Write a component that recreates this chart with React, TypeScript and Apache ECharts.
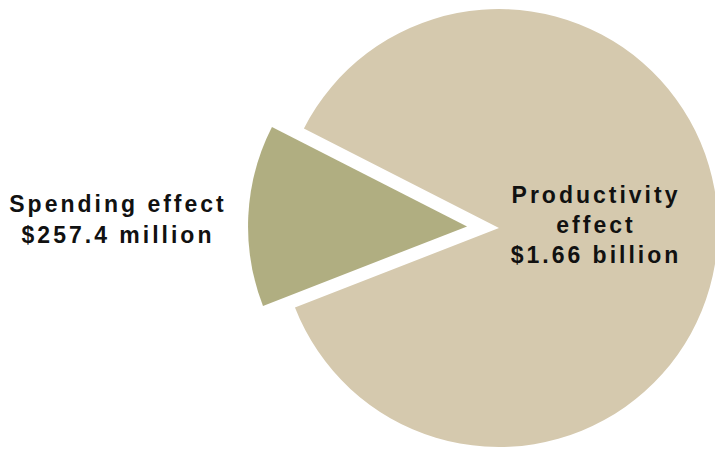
import React, { useEffect, useRef } from "react";
import * as echarts from "echarts";

// Data
const categories = ["Spending effect", "Productivity effect"];
const valuesMillions = [257.4, 1660];
const valueLabels = ["$257.4 million", "$1.66 billion"];
const nameLines = [["Spending effect"], ["Productivity", "effect"]];
const sliceColors = ["#B0AE81", "#D5C9AE"];

export default function App() {
  const ref = useRef<HTMLDivElement>(null);

  useEffect(() => {
    if (!ref.current) return;
    const chart = echarts.init(ref.current, null, { renderer: "svg" });
    const labelPos = [
      { x: 118, y: 219.5, lineHeight: 31.6 },
      { x: 596, y: 225.3, lineHeight: 30 },
    ];
    chart.setOption({
      animation: false,
      backgroundColor: "#ffffff",
      graphic: categories.map((c, i) => ({
        type: "text",
        x: labelPos[i].x,
        y: labelPos[i].y,
        z: 100,
        style: {
          text: [...nameLines[i], valueLabels[i]].join("\n"),
          fill: "#111111",
          font: "bold 23px 'Liberation Sans', Arial, sans-serif",
          textAlign: "center",
          textVerticalAlign: "middle",
          lineHeight: labelPos[i].lineHeight,
        },
      })),
      series: [
        {
          type: "pie",
          center: [499, 228],
          radius: [0, 219],
          startAngle: 201.3,
          clockwise: true,
          selectedMode: "single",
          selectedOffset: 32,
          avoidLabelOverlap: false,
          emphasis: { disabled: true },
          labelLine: { show: false },
          label: { show: false },
          data: categories.map((c, i) => ({
            name: c,
            value: valuesMillions[i],
            selected: i === 0,
            itemStyle: { color: sliceColors[i], borderWidth: 0 },
            select: { itemStyle: { color: sliceColors[i], borderWidth: 0 } },
          })),
        },
      ],
    });
    return () => chart.dispose();
  }, []);

  return (
    <div
      ref={ref}
      style={{
        position: "absolute",
        left: 0,
        top: 0,
        width: 715,
        height: 450,
        letterSpacing: "3px",
      }}
    />
  );
}
